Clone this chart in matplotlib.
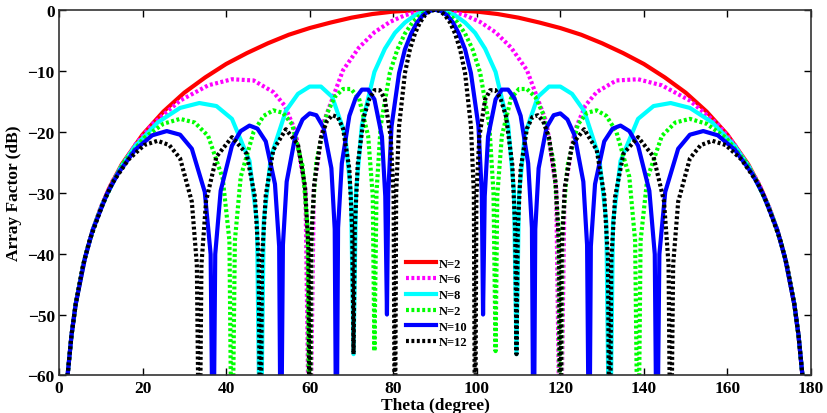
import matplotlib
matplotlib.use("Agg")
import matplotlib.pyplot as plt

plt.rcParams['font.family'] = ['Liberation Serif', 'DejaVu Serif']
plt.rcParams['font.weight'] = 'bold'

# values (theta in degree, array factor in dB)
theta_red = [1, 2, 3, 4, 6, 8, 10, 12, 15, 20, 25, 30, 35, 40, 45, 50, 55, 60, 65, 70, 75, 80, 85, 90,
             95, 100, 105, 110, 115, 120, 125, 130, 135, 140, 145, 150, 155, 160, 165, 168, 170, 172, 174, 176, 177, 178, 179]
af_red = [-72.5, -60.4, -53.4, -48.3, -41.3, -36.3, -32.5, -29.3, -25.4, -20.5, -16.7, -13.6, -11.1, -8.9, -7.1, -5.5,
          -4.1, -3.0, -2.1, -1.3, -0.7, -0.3, -0.1, 0.0,
          -0.1, -0.3, -0.7, -1.3, -2.1, -3.0, -4.1, -5.5, -7.1, -8.9, -11.1, -13.6, -16.7, -20.5, -25.4, -29.3,
          -32.5, -36.3, -41.3, -48.3, -53.4, -60.4, -72.5]

theta_mag = [1, 2, 3, 4, 6, 8, 9.9, 12.8, 18.2, 22.3, 29.0, 35.7, 41.4, 46.6, 51.3, 54.0, 56.6, 59.0, 60.0, 61.0,
             63.3, 68.0, 71.8, 75.5, 79.2, 82.8, 86.4, 90,
             93.6, 97.2, 100.8, 104.5, 108.2, 112.0, 116.7, 119.0, 120.0, 121.0, 123.4, 126.0, 128.7, 133.4, 138.6,
             144.3, 151.0, 157.7, 161.8, 167.2, 170.1, 172, 174, 176, 177, 178, 179]
af_mag = [-72.5, -60.4, -53.4, -48.3, -41.3, -36.3, -32.6, -28.1, -22.2, -18.8, -14.9, -12.4, -11.4, -11.6, -13.5,
          -15.7, -19.9, -29.8, -80, -29.4, -18.5, -9.9, -6.2, -3.7, -2.0, -0.9, -0.2, 0.0,
          -0.2, -0.9, -2.0, -3.7, -6.2, -9.9, -18.5, -29.4, -80, -29.8, -19.9, -15.7, -13.5, -11.6, -11.4, -12.4,
          -14.9, -18.8, -22.2, -28.1, -32.6, -36.3, -41.3, -48.3, -53.4, -60.4, -72.5]

theta_cyan = [1, 2, 3, 4, 6, 8.1, 10.5, 14.8, 18.2, 23.6, 29.0, 33.6, 37.7, 41.4, 45.6, 47.4, 48.2, 49.0, 50.7, 54.3,
              57.2, 60.0, 62.7, 65.4, 68.5, 69.9, 70.5, 71.1, 72.5, 75.5, 78.0, 80.4, 82.8, 85.2, 87.6, 90,
              92.4, 94.8, 97.2, 99.6, 102.0, 104.5, 107.5, 108.9, 109.5, 110.1, 111.5, 114.6, 117.3, 120.0, 122.8,
              125.7, 129.3, 131.0, 131.8, 132.6, 134.4, 138.6, 142.3, 146.4, 151.0, 156.4, 161.8, 165.2, 169.5,
              171.9, 174, 176, 177, 178, 179]
af_cyan = [-72.5, -60.4, -53.4, -48.3, -41.3, -36.1, -31.7, -25.8, -22.4, -18.5, -16.1, -15.3, -15.8, -17.9, -24.8,
           -34.9, -80, -34.8, -24.2, -16.6, -13.8, -12.6, -12.6, -14.3, -20.5, -30.3, -56.5, -29.8, -18.9, -10.2,
           -6.4, -3.8, -2.1, -0.9, -0.2, 0.0,
           -0.2, -0.9, -2.1, -3.8, -6.4, -10.2, -18.9, -29.8, -56.5, -30.3, -20.5, -14.3, -12.6, -12.6, -13.8,
           -16.6, -24.2, -34.8, -80, -34.9, -24.8, -17.9, -15.8, -15.3, -16.1, -18.5, -22.4, -25.8, -31.7, -36.1,
           -41.3, -48.3, -53.4, -60.4, -72.5]

theta_green = [1, 2, 3, 4, 6, 7.0, 9.1, 12.8, 15.7, 20.4, 25.0, 29.0, 32.5, 35.7, 39.2, 40.8, 41.4, 42.1, 43.5, 46.6,
               49.0, 51.3, 53.6, 55.8, 58.3, 59.5, 60.0, 60.5, 61.6, 64.1, 66.0, 68.0, 69.9, 71.8, 74.0, 75.1, 75.5,
               76.0, 77.0, 79.2, 81.0, 82.8, 84.6, 86.4, 88.2, 90,
               91.8, 93.6, 95.4, 97.2, 99.0, 100.8, 103.0, 104.0, 104.5, 104.9, 106.0, 108.2, 110.1, 112.0, 114.0,
               115.9, 118.4, 119.5, 120.0, 120.5, 121.7, 124.2, 126.4, 128.7, 131.0, 133.4, 136.5, 137.9, 138.6,
               139.2, 140.8, 144.3, 147.5, 151.0, 155.0, 159.6, 164.3, 167.2, 170.9, 173.0, 174, 176, 177, 178, 179]
af_green = [-72.5, -60.4, -53.4, -48.3, -41.3, -38.6, -34.2, -28.3, -24.9, -21.0, -18.7, -17.9, -18.5, -20.7, -27.7,
            -37.9, -80, -37.9, -27.4, -20.0, -17.4, -16.5, -16.9, -18.8, -25.6, -35.7, -80, -35.5, -24.9, -17.1,
            -14.3, -13.0, -13.0, -14.5, -20.7, -30.5, -56.0, -30.0, -19.0, -10.3, -6.5, -3.9, -2.1, -0.9, -0.2, 0.0,
            -0.2, -0.9, -2.1, -3.9, -6.5, -10.3, -19.0, -30.0, -56.0, -30.5, -20.7, -14.5, -13.0, -13.0, -14.3,
            -17.1, -24.9, -35.5, -80, -35.7, -25.6, -18.8, -16.9, -16.5, -17.4, -20.0, -27.4, -37.9, -80,
            -37.9, -27.7, -20.7, -18.5, -17.9, -18.7, -21.0, -24.9, -28.3, -34.2, -38.6, -41.3, -48.3, -53.4,
            -60.4, -72.5]

theta_blue = [1, 2, 3, 4, 6.3, 8.1, 11.5, 14.1, 18.2, 22.3, 25.8, 29.0, 31.8, 34.9, 36.3, 36.9, 37.4, 38.7, 41.4,
              43.5, 45.6, 47.5, 49.5, 51.7, 52.7, 53.1, 53.6, 54.5, 56.6, 58.3, 60.0, 61.6, 63.3, 65.2, 66.0, 66.4,
              66.8, 67.7, 69.5, 71.0, 72.5, 74.0, 75.5, 77.3, 78.1, 78.5, 78.8, 79.6, 81.4, 82.8, 84.3, 85.7, 87.1,
              88.6, 90,
              91.4, 92.9, 94.3, 95.7, 97.2, 98.6, 100.4, 101.2, 101.5, 101.9, 102.7, 104.5, 106.0, 107.5, 109.0,
              110.5, 112.3, 113.2, 113.6, 114.0, 114.8, 116.7, 118.4, 120.0, 121.7, 123.4, 125.5, 126.4, 126.9,
              127.3, 128.3, 130.5, 132.5, 134.4, 136.5, 138.6, 141.3, 142.6, 143.1, 143.7, 145.1, 148.2, 151.0,
              154.2, 157.7, 161.8, 165.9, 168.5, 171.9, 173.7, 176, 177, 178, 179]
af_blue = [-72.5, -60.4, -53.4, -48.3, -40.5, -36.1, -30.2, -26.9, -23.0, -20.6, -19.9, -20.5, -22.8, -29.9, -40.1,
           -80, -40.1, -29.7, -22.3, -19.9, -19.0, -19.5, -21.6, -28.6, -38.8, -80, -38.6, -28.2, -20.6, -18.0,
           -17.0, -17.3, -19.3, -26.0, -36.0, -80, -35.8, -25.2, -17.4, -14.5, -13.1, -13.1, -14.7, -20.8, -30.6,
           -50.0, -30.1, -19.1, -10.4, -6.5, -3.9, -2.1, -0.9, -0.2, 0.0,
           -0.2, -0.9, -2.1, -3.9, -6.5, -10.4, -19.1, -30.1, -50.0, -30.6, -20.8, -14.7, -13.1, -13.1, -14.5,
           -17.4, -25.2, -35.8, -80, -36.0, -26.0, -19.3, -17.3, -17.0, -18.0, -20.6, -28.2, -38.6, -80,
           -38.8, -28.6, -21.6, -19.5, -19.0, -19.9, -22.3, -29.7, -40.1, -80, -40.1, -29.9, -22.8, -20.5,
           -19.9, -20.6, -23.0, -26.9, -30.2, -36.1, -40.5, -48.3, -53.4, -60.4, -72.5]

theta_black = [1, 2, 3, 4, 5.7, 7.4, 10.5, 12.8, 16.6, 20.4, 23.6, 26.4, 29.0, 31.8, 33.0, 33.6, 34.1, 35.2, 37.7,
               41.4, 44.9, 46.9, 47.8, 48.2, 48.6, 49.5, 51.3, 54.3, 57.2, 58.9, 59.7, 60.0, 60.3, 61.1, 62.7, 64.1,
               65.4, 66.7, 68.0, 69.5, 70.2, 70.5, 70.8, 71.5, 73.0, 74.3, 75.5, 76.8, 78.0, 79.4, 80.1, 80.4, 80.7,
               81.4, 82.8, 84.0, 85.2, 86.4, 87.6, 88.8, 90,
               91.2, 92.4, 93.6, 94.8, 96.0, 97.2, 98.6, 99.3, 99.6, 99.9, 100.6, 102.0, 103.2, 104.5, 105.7,
               107.0, 108.5, 109.2, 109.5, 109.8, 110.5, 112.0, 113.3, 114.6, 115.9, 117.3, 118.9, 119.7, 120.0,
               120.3, 121.1, 122.8, 125.7, 128.7, 130.5, 131.4, 131.8, 132.2, 133.1, 135.1, 138.6, 142.3, 144.8,
               145.9, 146.4, 147.0, 148.2, 151.0, 153.6, 156.4, 159.6, 163.4, 167.2, 169.5, 172.6, 174.3, 176, 177,
               178, 179]
af_black = [-72.5, -60.4, -53.4, -48.3, -42.1, -37.7, -31.8, -28.4, -24.6, -22.2, -21.5, -22.2, -24.4, -31.5, -41.8,
            -80, -41.8, -31.4, -24.1, -20.9, -23.6, -30.7, -40.9, -80, -40.8, -30.4, -23.0, -19.6, -22.1, -29.0,
            -39.2, -80, -39.0, -28.5, -21.0, -18.3, -17.3, -17.6, -19.5, -26.1, -36.2, -56.5, -36.0, -25.4, -17.5,
            -14.6, -13.2, -13.2, -14.7, -20.9, -30.6, -80, -30.1, -19.1, -10.4, -6.5, -3.9, -2.1, -0.9, -0.2, 0.0,
            -0.2, -0.9, -2.1, -3.9, -6.5, -10.4, -19.1, -30.1, -80, -30.6, -20.9, -14.7, -13.2, -13.2, -14.6,
            -17.5, -25.4, -36.0, -56.5, -36.2, -26.1, -19.5, -17.6, -17.3, -18.3, -21.0, -28.5, -39.0, -80,
            -39.2, -29.0, -22.1, -19.6, -23.0, -30.4, -40.8, -80, -40.9, -30.7, -23.6, -20.9, -24.1, -31.4,
            -41.8, -80, -41.8, -31.5, -24.4, -22.2, -21.5, -22.2, -24.6, -28.4, -31.8, -37.7, -42.1, -48.3, -53.4,
            -60.4, -72.5]

labels = ['N=2', 'N=6', 'N=8', 'N=2', 'N=10', 'N=12']
x_ticks = [0, 20, 40, 60, 80, 100, 120, 140, 160, 180]
y_ticks = [0, -10, -20, -30, -40, -50, -60]

dots = (0, (0.7, 0.6))

fig = plt.figure(figsize=(8.27, 4.14), dpi=100)
ax = fig.add_axes([0.0713, 0.0906, 0.9094, 0.8834])

ax.plot(theta_red, af_red, color='#ff0000', lw=3.0, label=labels[0])
ax.plot(theta_mag, af_mag, color='#ff00ff', lw=3.0, ls=dots, label=labels[1])
ax.plot(theta_cyan, af_cyan, color='#00ffff', lw=3.0, label=labels[2])
ax.plot(theta_green, af_green, color='#00ff00', lw=3.0, ls=dots, label=labels[3])
ax.plot(theta_blue, af_blue, color='#0000ff', lw=3.0, label=labels[4])
ax.plot(theta_black, af_black, color='#000000', lw=3.0, ls=dots, label=labels[5])

ax.set_xlim(0, 180)
ax.set_ylim(-60, 0)
ax.set_xticks(x_ticks)
ax.set_yticks(y_ticks)
ax.tick_params(direction='in', length=5, width=1, top=True, right=True, labelsize=12.5, pad=3)
for lab in ax.get_xticklabels() + ax.get_yticklabels():
    lab.set_fontweight('bold')
for s in ax.spines.values():
    s.set_linewidth(1.2)
    s.set_color('#333333')

ax.set_xlabel('Theta (degree)', fontsize=12.5, fontweight='bold', labelpad=1)
ax.set_ylabel('Array Factor (dB)', fontsize=12.5, fontweight='bold', labelpad=4)

leg = ax.legend(loc='upper left', bbox_to_anchor=(0.462, 0.322), frameon=False,
                prop={'size': 9, 'weight': 'bold'}, handlelength=2.4, handletextpad=0.2,
                labelspacing=0.3, borderpad=0, borderaxespad=0)

fig.savefig('out.png', dpi=100)
